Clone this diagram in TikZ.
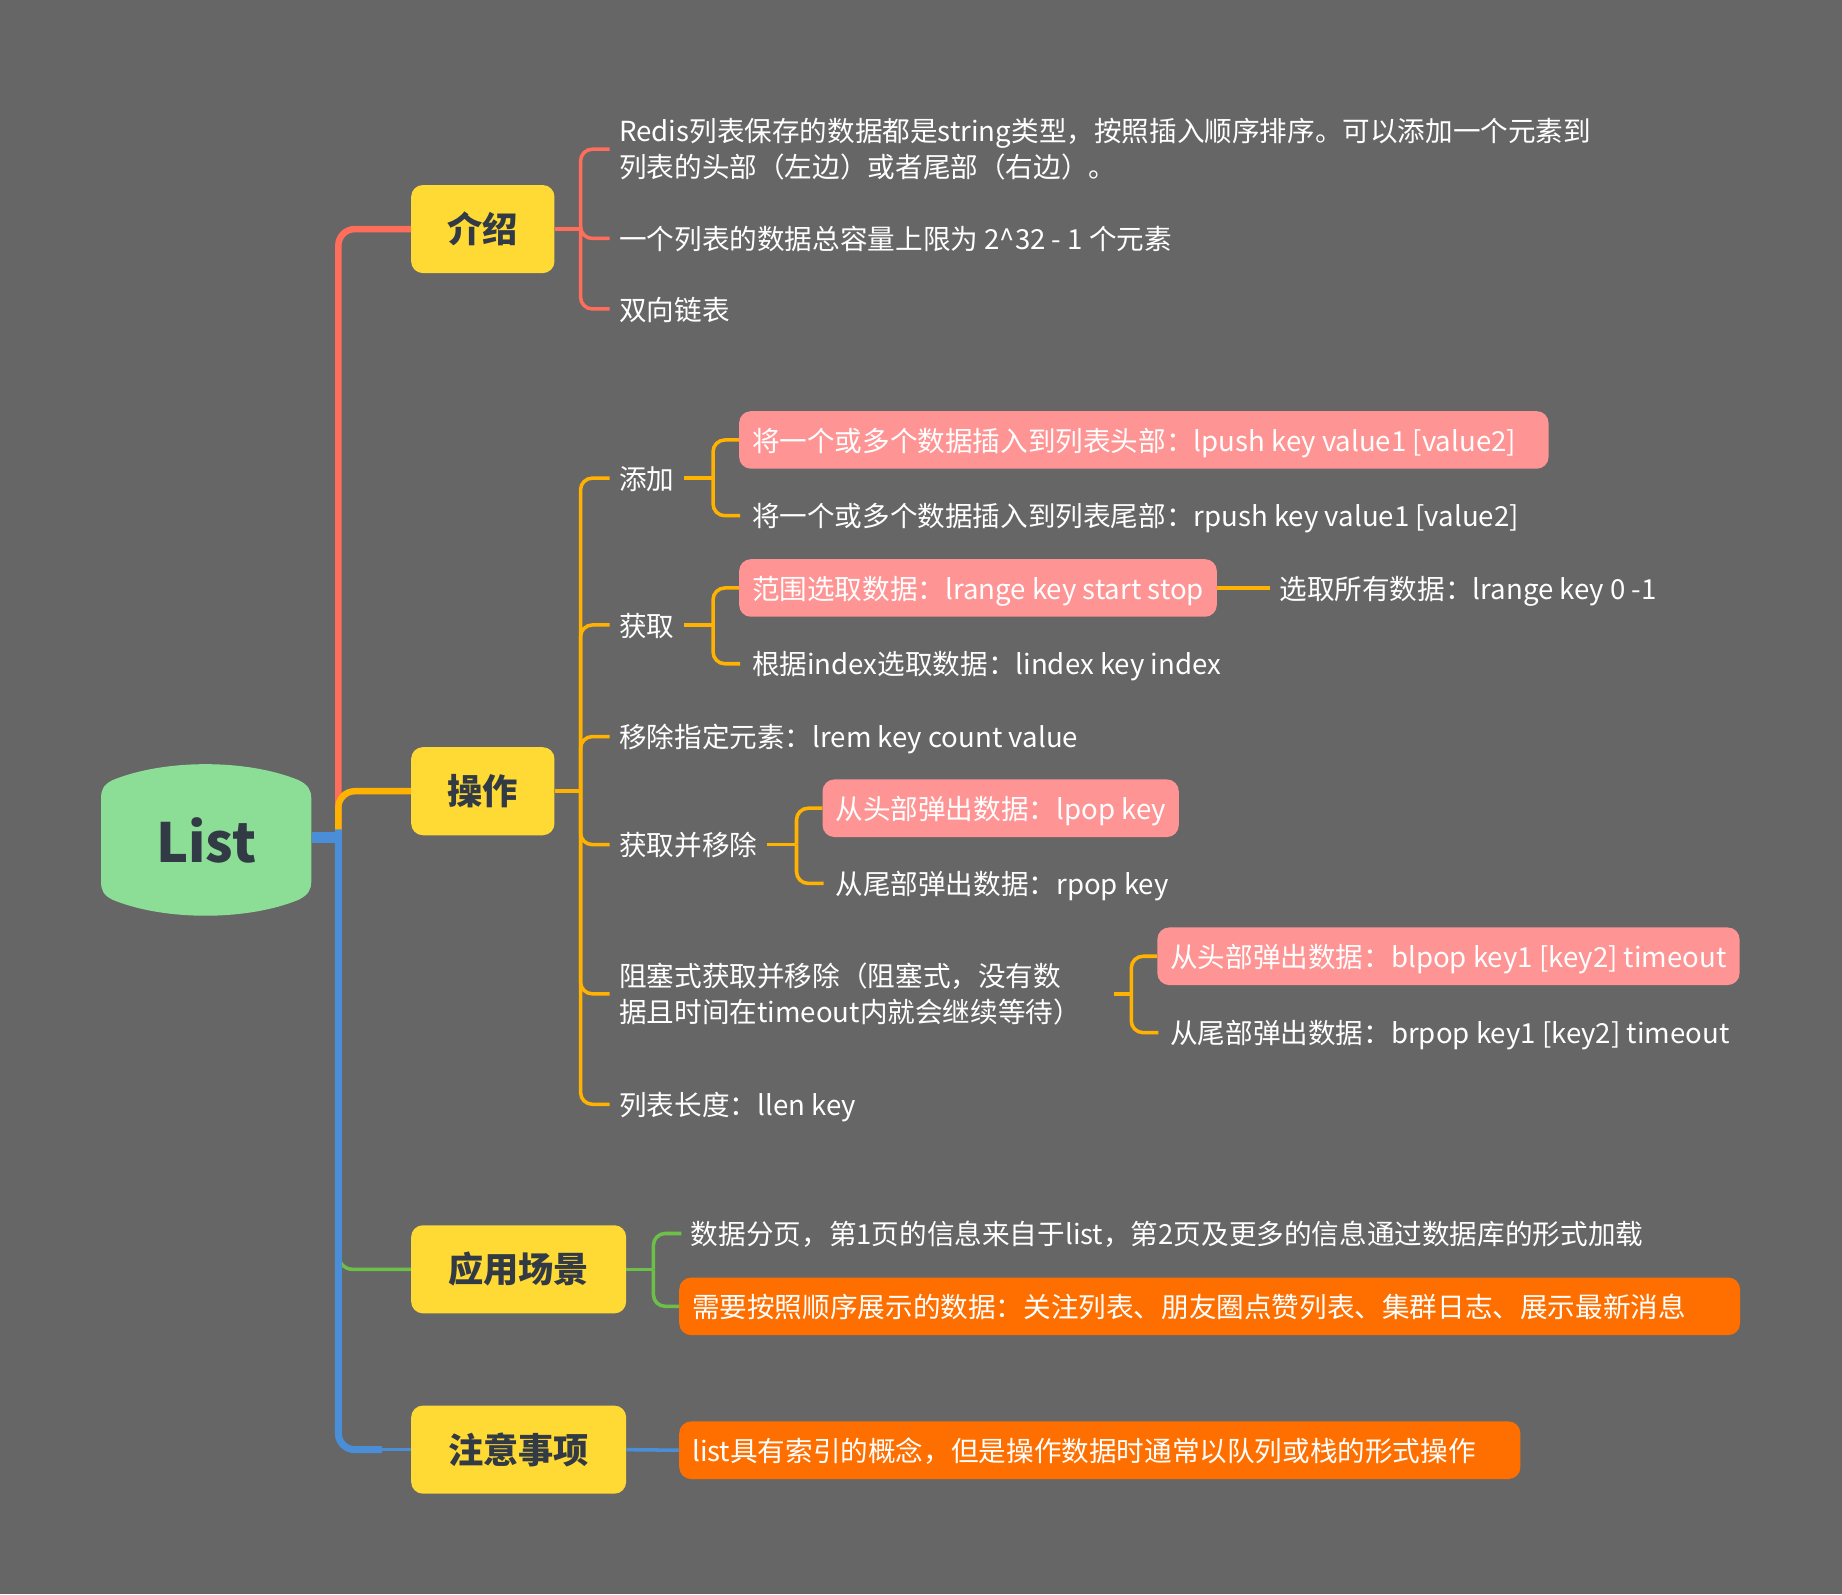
\documentclass[tikz,border=0pt]{standalone}
\usepackage{fontspec}
\setmainfont{Noto Sans CJK SC}
\usetikzlibrary{calc}
\definecolor{bg}{HTML}{666666}
\definecolor{cred}{HTML}{FF6E5A}
\definecolor{corange}{HTML}{FFB300}
\definecolor{cgreen}{HTML}{6CC04A}
\definecolor{cblue}{HTML}{4A8ED8}
\definecolor{ybox}{HTML}{FFD934}
\definecolor{pinkc}{HTML}{FF9494}
\definecolor{orbox}{HTML}{FF6F00}
\definecolor{lgreen}{HTML}{8CDD96}
\definecolor{darktxt}{HTML}{323A46}
\newlength\bxwd
\newcommand\bx[2]{\settowidth\bxwd{#2}\ifdim\bxwd<#1pt\relax\setlength\bxwd{#1pt}\fi\makebox[\bxwd][l]{#2}}
\tikzset{
  topic/.style={fill=ybox, rounded corners=10, minimum height=75, inner sep=0,
    text=darktxt, font=\bfseries\fontsize{30}{36}\selectfont},
  leaf/.style={anchor=west, inner xsep=8, inner ysep=2, text=white, align=left,
    font=\fontsize{23.5}{31}\selectfont},
  oneline/.style={text height=24, text depth=5},
  hbox/.style={anchor=west, rounded corners=10, minimum height=49, inner xsep=11,
    inner ysep=0, text=white, font=\fontsize{23.5}{31}\selectfont, oneline},
  pinkbox/.style={hbox, fill=pinkc},
  orangebox/.style={hbox, fill=orbox},
  brr/.style={draw=cred, line width=3, rounded corners=10},
  bro/.style={draw=corange, line width=3, rounded corners=10},
  brg/.style={draw=cgreen, line width=3, rounded corners=10},
  brb/.style={draw=cblue, line width=3},
}
\begin{document}
\begin{tikzpicture}[x=1pt,y=-1pt]
\fill[bg] (0,0) rectangle (1568,1357);
\useasboundingbox (0,0) rectangle (1568,1357);

% central topic
\fill[lgreen] (96,664) .. controls (140,646) and (210,646) .. (254,664)
  .. controls (262,668) and (265,672) .. (265,680) -- (265,750)
  .. controls (265,758) and (262,762) .. (254,766)
  .. controls (210,784) and (140,784) .. (96,766)
  .. controls (88,762) and (86,758) .. (86,750) -- (86,680)
  .. controls (86,672) and (88,668) .. (96,664) -- cycle;
\node[minimum width=179, minimum height=127, inner sep=0, text=darktxt,
  font=\bfseries\fontsize{46}{50}\selectfont] (list) at (175.5,715.5) {List};

% main topics
\node[topic, minimum width=122] (jieshao) at (411,195) {介绍};
\node[topic, minimum width=122] (caozuo) at (411,673.5) {操作};
\node[topic, minimum width=183] (yingyong) at (441.5,1080.5) {应用场景};
\node[topic, minimum width=183] (zhuyi) at (441.5,1234) {注意事项};

\coordinate (trunk) at (288,713);

% trunk lines
\draw[cred, line width=5.5, rounded corners=14] (jieshao.west) -| (trunk);
\draw[corange, line width=5.5, rounded corners=14] (caozuo.west) -| (trunk);
\draw[cgreen, line width=3, rounded corners=12] (yingyong.west) -| (288,1040);
\draw[cblue, line width=6, rounded corners=14] (288,706) |- (325,1234);
\draw[cblue, line width=3] (325,1234) -- (zhuyi.west);
\draw[cblue, line width=9] (list.east |- trunk) -- ($(trunk)+(3,0)$);

% ---- 介绍
\node[leaf] (intro1) at (519,127) {Redis列表保存的数据都是string类型，按照插入顺序排序。可以添加一个元素到\\列表的头部（左边）或者尾部（右边）。};
\node[leaf, oneline] (intro2) at (519,203) {一个列表的数据总容量上限为 2\textasciicircum32 - 1 个元素};
\node[leaf, oneline] (intro3) at (519,263) {双向链表};
\coordinate (jj) at ($(jieshao.east)+(22,0)$);
\draw[brr] (jieshao.east) -- (jj);
\draw[brr] (jj) |- (intro1.west);
\draw[brr] (jj) |- (intro2.west);
\draw[brr] (jj) |- (intro3.west);

% ---- 操作
\node[leaf, oneline] (tianjia) at (519,407) {添加};
\node[leaf, oneline] (huoqu) at (519,532) {获取};
\node[leaf, oneline] (lrem) at (519,627) {移除指定元素：lrem key count value};
\node[leaf, oneline] (hqyc) at (519,719) {获取并移除};
\node[leaf, text width=405] (zuse) at (519,846) {阻塞式获取并移除（阻塞式，没有数\\据且时间在timeout内就会继续等待）};
\node[leaf, oneline] (llen) at (519,940) {列表长度：llen key};
\coordinate (cj) at ($(caozuo.east)+(22,0)$);
\draw[bro] (caozuo.east) -- (cj);
\foreach \c in {tianjia,huoqu,lrem,hqyc,zuse,llen}{\draw[bro] (cj) |- (\c.west);}

% 添加
\node[pinkbox] (lpush) at (629,374.5) {\bx{667}{将一个或多个数据插入到列表头部：lpush key value1 [value2]}};
\node[leaf, oneline, inner xsep=10] (rpush) at (630,439) {将一个或多个数据插入到列表尾部：rpush key value1 [value2]};
\coordinate (tj) at (607,407);
\draw[bro] (tianjia.east) -- (tj);
\draw[bro] (tj) |- (lpush.west);
\draw[bro] (tj) |- (rpush.west);

% 获取
\node[pinkbox] (lrange) at (629,500.5) {\bx{382}{范围选取数据：lrange key start stop}};
\node[leaf, oneline] (allsel) at (lrange.east -| 1081,500.5) {选取所有数据：lrange key 0 -1};
\node[leaf, oneline, inner xsep=10] (lindex) at (630,565) {根据index选取数据：lindex key index};
\coordinate (hj) at (607,532);
\draw[bro] (huoqu.east) -- (hj);
\draw[bro] (hj) |- (lrange.west);
\draw[bro] (hj) |- (lindex.west);
\draw[bro] (lrange.east) -- (allsel.west);

% 获取并移除
\node[pinkbox] (lpop) at (700,688) {\bx{279}{从头部弹出数据：lpop key}};
\node[leaf, oneline, inner xsep=10] (rpop) at (701,752) {从尾部弹出数据：rpop key};
\coordinate (hyj) at (678,719);
\draw[bro] (hqyc.east) -- (hyj);
\draw[bro] (hyj) |- (lpop.west);
\draw[bro] (hyj) |- (rpop.west);

% 阻塞式
\node[pinkbox] (blpop) at (985,814) {\bx{466}{从头部弹出数据：blpop key1 [key2] timeout}};
\node[leaf, oneline, inner xsep=10] (brpop) at (986,879) {从尾部弹出数据：brpop key1 [key2] timeout};
\coordinate (zj) at (963,846);
\draw[bro] ($(zuse.east)+(8,0)$) -- (zj);
\draw[bro] (zj) |- (blpop.west);
\draw[bro] (zj) |- (brpop.west);

% ---- 应用场景
\node[leaf, oneline] (fenye) at (580,1050) {数据分页，第1页的信息来自于list，第2页及更多的信息通过数据库的形式加载};
\node[orangebox] (xuyao) at (578,1112) {\bx{881}{需要按照顺序展示的数据：关注列表、朋友圈点赞列表、集群日志、展示最新消息}};
\coordinate (yj) at ($(yingyong.east)+(23,0)$);
\draw[brg] (yingyong.east) -- (yj);
\draw[brg] (yj) |- (fenye.west);
\draw[brg] (yj) |- (xuyao.west);

% ---- 注意事项
\node[orangebox] (suoyin) at (578,1234.5) {\bx{694}{list具有索引的概念，但是操作数据时通常以队列或栈的形式操作}};
\draw[brb] (zhuyi.east) -- (suoyin.west);
\end{tikzpicture}
\end{document}
